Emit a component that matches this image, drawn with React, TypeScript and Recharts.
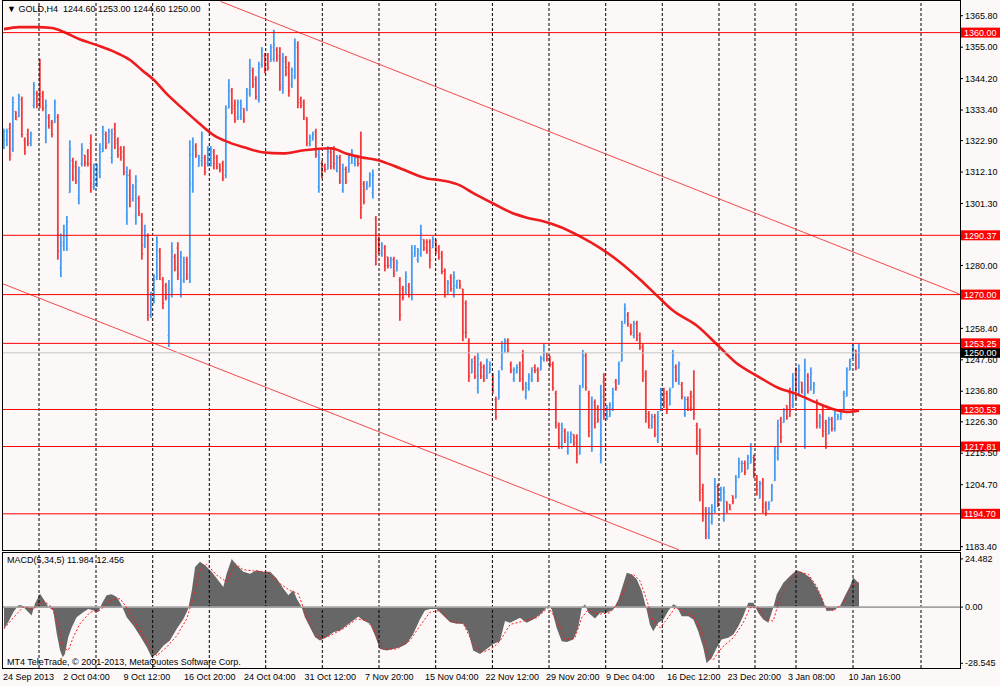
import React from 'react';
import { ComposedChart, Bar, Line, Area, XAxis, YAxis, ReferenceLine } from 'recharts';

const FONT = '"Liberation Sans", Arial, sans-serif';
const BG = '#fcf8f8';
const UP_COLOR = '#459cf2';
const DOWN_COLOR = '#f03c3c';

// ---------------- price bars (H4) ----------------
const opens = [
  1322,1323,1327,1320,1333,1331,1337,1323,1325,1322,1335,1339,1345,1339,1324,1331,1329,1329,1331,
  1279,1287,1290,1305,1316,1314,1303,1315,1318,1319,1322,1307,1308,1312,1319,1325,1322,1317,1327,1323,1320,1319,1297,1311,1303,1297,1303,1297,1287,1290,1263,1268,1276,1285,1275,1273,1256,1270,1283,1286,1272,1275,1282,1276,
  1308,1321,1314,1316,1317,1315,1315,1319,1317,1315,1315,1311,1334,1340,1335,1331,1331,1334,1334,1339,1347,1344,1337,1349,1352,1352,1350,1351,1354,1352,1341,1351,1348,1342,1345,1355,1337,1336,1330,1321,1323,1326,1307,1315,1314,1313,1319,1320,1313,1317,1306,1313,1312,1315,1315,1317,1315,1308,1306,1307,1305,1296,
  1289,1284,1286,1283,1280,1282,1278,1275,1272,1270,1273,1270,1283,1282,1284,1289,1288,1288,1286,1288,1286,1284,1278,1270,1276,1270,1273,1275,1272,1267,1254,1243,1248,1238,1246,1245,1242,1243,1242,1234,1234,1245,1250,1254,1246,1241,1243,1246,1249,1235,1238,1241,1245,1244,1244,1248,1250,1249,1246,1236,
  1225,1218,1223,1216,1219,1222,1221,1216,1238,1249,1236,1218,1233,1231,1215,1240,1228,1228,1231,1240,1240,1247,1260,1263,1259,1256,1260,1256,1252,1243,1229,1224,1228,1220,1230,1237,1236,1232,1238,1245,1240,1239,1229,1234,1236,1235,1225,1220,
  1203,1196,1187,1192,1196,1204,1199,1193,1199,1198,1201,1200,1207,1209,1212,1210,1212,1214,1207,1200,1205,1198,1196,1199,1206,1214,1227,1226,1232,1236,1232,1243,1236,1240,1236,1242,1238,1236,1233,1225,1230,1226,1222,1227,1224,1227,1227,1230,1235,1244,1248,1251,1244.6,
];
const highs = [
  1327,1327,1329,1338,1333,1339,1338,1324,1327,1326,1343,1340,1351,1340,1337,1332,1330,1337,1332,
  1291,1294,1297,1323,1317,1316,1314,1322,1318,1320,1325,1315,1315,1322,1328,1326,1327,1327,1329,1324,1321,1321,1314,1313,1308,1311,1304,1298,1294,1291,1271,1277,1290,1286,1276,1274,1275,1288,1284,1288,1285,1283,1283,1323,
  1324,1322,1318,1326,1318,1321,1321,1320,1318,1315,1316,1335,1344,1341,1337,1337,1337,1334,1341,1351,1348,1345,1350,1355,1353,1353,1356,1361,1355,1355,1353,1352,1350,1348,1358,1357,1338,1337,1331,1325,1326,1327,1320,1316,1315,1321,1320,1321,1318,1318,1315,1314,1318,1320,1318,1318,1326,1309,1309,1312,1313,1297,
  1290,1288,1287,1283,1283,1283,1282,1276,1273,1278,1274,1287,1287,1286,1294,1289,1289,1289,1290,1289,1287,1285,1279,1275,1277,1278,1275,1275,1272,1268,1255,1248,1249,1250,1247,1246,1248,1247,1243,1235,1244,1254,1255,1255,1247,1245,1246,1247,1251,1240,1243,1245,1246,1245,1249,1253,1250,1249,1247,1237,
  1226,1226,1224,1223,1223,1222,1222,1239,1251,1250,1237,1235,1234,1232,1239,1243,1232,1233,1238,1241,1247,1261,1267,1264,1260,1261,1261,1257,1253,1244,1230,1229,1229,1230,1238,1238,1237,1238,1251,1246,1247,1240,1235,1235,1237,1244,1226,1224,
  1205,1197,1197,1198,1207,1205,1204,1204,1199,1198,1201,1208,1214,1213,1213,1215,1219,1215,1208,1206,1207,1199,1199,1205,1218,1227,1228,1231,1232,1238,1243,1245,1246,1240,1248,1243,1245,1240,1234,1229,1232,1227,1228,1228,1230,1229,1230,1237,1245,1248,1253,1251,1253,
];
const lows = [
  1320,1321,1316,1319,1330,1331,1324,1318,1321,1321,1334,1334,1334,1333,1322,1327,1324,1329,1282,
  1276,1285,1285,1305,1309,1308,1301,1314,1314,1314,1305,1306,1307,1310,1319,1320,1322,1315,1320,1317,1316,1311,1294,1300,1302,1294,1297,1282,1286,1261,1262,1267,1275,1275,1265,1268,1252,1269,1278,1275,1269,1274,1275,1274,
  1305,1317,1314,1314,1311,1314,1314,1313,1313,1312,1309,1310,1334,1332,1329,1330,1330,1329,1333,1338,1341,1337,1336,1348,1346,1347,1350,1350,1350,1340,1339,1345,1338,1341,1344,1334,1334,1330,1321,1321,1323,1317,1305,1310,1312,1313,1313,1313,1312,1308,1305,1308,1312,1315,1314,1314,1296,1301,1306,1307,1303,1280,
  1284,1283,1278,1279,1279,1276,1278,1261,1268,1270,1269,1268,1283,1281,1283,1285,1284,1279,1286,1284,1282,1277,1269,1270,1271,1269,1272,1272,1254,1255,1240,1243,1241,1236,1241,1240,1241,1243,1236,1227,1234,1244,1250,1250,1243,1240,1243,1240,1237,1234,1237,1240,1243,1240,1244,1247,1247,1245,1237,1224,
  1217,1217,1219,1215,1219,1218,1212,1215,1238,1237,1221,1216,1224,1226,1212,1227,1227,1228,1230,1237,1239,1247,1260,1259,1256,1255,1254,1251,1240,1226,1224,1224,1221,1219,1230,1231,1229,1232,1238,1240,1239,1234,1228,1230,1230,1227,1215,1199,
  1192,1186,1186,1191,1195,1197,1199,1192,1195,1196,1198,1200,1207,1209,1208,1210,1212,1207,1201,1200,1195,1194,1196,1199,1206,1213,1219,1226,1227,1228,1231,1234,1235,1236,1217,1236,1237,1236,1224,1224,1221,1217,1222,1223,1223,1227,1227,1230,1235,1244,1248,1244,1244.6,
];
const closes = [
  1326,1326,1318,1336,1330,1338,1325,1319,1322,1325,1342,1335,1338,1334,1335,1328,1325,1336,1285,
  1288,1292,1295,1320,1310,1309,1312,1320,1315,1315,1308,1313,1313,1320,1326,1321,1326,1325,1322,1318,1317,1312,1311,1302,1307,1309,1298,1284,1292,1263,1269,1275,1288,1277,1267,1269,1272,1285,1279,1277,1283,1281,1277,1318,
  1320,1318,1317,1324,1312,1319,1320,1315,1314,1313,1310,1331,1342,1334,1330,1336,1335,1330,1340,1348,1342,1338,1348,1354,1347,1348,1355,1356,1351,1342,1350,1346,1340,1347,1356,1336,1335,1331,1322,1324,1325,1318,1317,1311,1313,1319,1314,1315,1317,1309,1313,1309,1317,1319,1317,1315,1300,1302,1308,1311,1311,1283,
  1285,1287,1280,1280,1282,1277,1281,1263,1269,1276,1270,1284,1286,1285,1291,1286,1285,1282,1289,1285,1283,1278,1271,1274,1272,1276,1275,1273,1257,1257,1242,1247,1242,1248,1242,1241,1247,1246,1237,1228,1242,1252,1254,1251,1244,1244,1245,1241,1238,1239,1242,1244,1244,1241,1248,1252,1248,1246,1238,1226,
  1219,1224,1220,1221,1222,1219,1215,1237,1249,1238,1223,1232,1226,1227,1235,1229,1231,1232,1236,1238,1246,1259,1265,1260,1257,1260,1255,1252,1242,1228,1225,1228,1222,1228,1236,1233,1231,1237,1249,1241,1246,1235,1234,1231,1231,1229,1217,1202,
  1194,1188,1195,1197,1204,1198,1203,1202,1196,1196,1199,1206,1212,1212,1209,1214,1217,1208,1203,1205,1197,1195,1198,1204,1216,1225,1221,1230,1228,1230,1241,1236,1244,1237,1244,1237,1243,1239,1226,1228,1223,1219,1227,1224,1229,1228,1229,1236,1243,1247,1252,1245,1250,
];

// ---------------- moving average (read at knots: bar index / value) ----------------
const maIndex = [0,5,11,16,20,25,31,37,42,46,50,54,59,65,70,75,80,86,93,100,109,114,119,125,132,141,146,152,156,163,169,174,180,185,192,199,205,212,218,223,231,238,244,251,258,264,271,276,281,285];
const maValues = [1361.2,1361.9,1361.9,1361.6,1360.2,1357.8,1355.7,1353.3,1350.6,1347.1,1343.7,1339.2,1334.4,1328.9,1324.7,1322.3,1320.6,1318.9,1318.5,1319.6,1320.3,1318.5,1317.2,1316.1,1313.4,1309.9,1309.2,1307.5,1305.1,1301.3,1298.2,1296.5,1295.1,1293.4,1290.0,1285.8,1281.4,1275.2,1269.3,1264.5,1259.3,1252.5,1246.6,1242.1,1238.0,1235.9,1232.8,1230.8,1229.7,1230.1];

// ---------------- levels, channel, axes ----------------
const levelPrices = [1360.0, 1290.37, 1270.0, 1253.25, 1230.53, 1217.81, 1194.7];
const lastPrice = 1250.0;
const priceTicks = [1365.8,1355.0,1344.2,1333.4,1322.9,1312.1,1301.3,1280.0,1258.4,1247.6,1236.8,1226.3,1215.5,1204.7,1183.4];
const upperChannel = [{ x: 72.2, y: 1370.7 }, { x: 318.5, y: 1270.2 }];
const lowerChannel = [{ x: -0.6, y: 1273.8 }, { x: 225.0, y: 1182.3 }];

const weekStartIdx = [11.67,30.67,49.57,68.43,87.23,106.1,125,143.9,162.8,181.67,200.57,219.43,238.33,250.33,264,283,305.67];
const timeLabelIdx = [-0.33,19.77,39.87,60,80,100.17,120.33,140.33,160.5,180.67,200.67,221,241.17,261.33,281.5];
const timeLabels = ['24 Sep 2013','2 Oct 04:00','9 Oct 12:00','16 Oct 20:00','24 Oct 04:00','31 Oct 12:00','7 Nov 20:00','15 Nov 04:00','22 Nov 12:00','29 Nov 20:00','9 Dec 04:00','16 Dec 12:00','23 Dec 20:00','3 Jan 08:00','10 Jan 16:00'];

// ---------------- MACD(5,34,5) ----------------
const histIdx = [0,1.4,3.1,4.8,5.9,7.6,9.2,10.3,12,13.1,14.8,16.4,17.6,18.7,19.6,20.3,21.4,22.6,24.2,26.4,28.1,29.8,31.4,32.6,34.2,35.9,37.6,39.2,40.9,43.1,45.3,47.6,49.2,50.9,53.1,55.3,57.6,59.8,61.4,62.6,63.7,65.3,67,69.2,71.4,73.1,74.2,75.9,77.6,79.8,82,84.2,86.4,88.7,90.9,93.1,94.8,96.4,97.6,99.2,100.3,102,103.7,105.3,107.6,109.8,112,114.2,116.4,118.1,119.8,122,123.7,125.3,127.6,129.8,132,134.2,136.4,138.7,140.3,142,144.2,146.4,148.7,150.9,153.1,154.8,156.4,158.7,160.9,163.1,165.3,167,168.7,172,174.2,176.4,178.7,180.3,181.4,182.6,184.2,185.9,187.6,189.8,191.4,192.6,193.7,194.8,197,198.7,200.9,203.1,204.8,206.4,207.6,209.2,210.9,212.6,214.2,215.3,216.4,218.1,219.8,221.4,223.1,224.2,225.9,228.1,229.8,231.4,233.1,234.2,235.9,237.6,239.2,241.4,243.1,244.8,246.4,248.1,249.8,251.4,253.1,254.8,256.4,257.6,259.8,262,264.2,266.4,268.7,270.9,272.6,274.2,276.4,278.7,280.3,282,283.1,284.2,285];
const histVals = [-11,-7.7,-2.6,0.9,0.9,-1.7,-4.3,1.7,6.8,4.3,0,-1.7,-13.6,-22,-25.5,-23.8,-15.3,-10.2,-5.1,-2.6,-0.9,-1.7,-2.6,1.7,6,6.5,5.1,0.9,-5.1,-9.4,-14.5,-20.4,-25.5,-23.8,-19.6,-17,-11,-6,-0.9,8.5,20.4,23,21.3,17.9,13.6,10.2,17,24.4,21.3,17.9,17,18.7,17.9,17.9,14.5,9.4,6,8.5,4.3,0,-5.1,-10.2,-15.3,-17,-15.3,-12.8,-11.9,-9.4,-6.8,-4.8,-6.8,-8.5,-14.5,-21.3,-22.1,-21.3,-20.4,-18.7,-13.6,-6,-1.7,-0.9,-0.9,-4.3,-7.7,-8.5,-8.5,-12.8,-22.1,-23.8,-21.3,-18.7,-17.3,-7.1,-8,-5.4,-8,-6.3,-3.7,-1.2,1,-1.2,-10.5,-17.3,-17.7,-16.5,-10.5,-0.3,1.4,-2.9,-5.8,-2.9,-2.9,-1.2,3.9,11.6,17.5,16.7,14.1,8.2,-1.2,-8.8,-12.2,-8,-6.3,-2,1.4,0.5,-4.6,-4.6,-6.3,-12.2,-20.7,-28.5,-25.8,-20.7,-16.5,-15.6,-13.9,-9.7,-4.6,2.2,2.2,-2.9,-6.3,-8,-0.3,6.5,12.4,15.8,18.7,17.5,15,9.9,4.8,-2,-1.7,0.5,5.6,10.7,15,13.3,11.984];
const sigIdx = [0,3.1,6.4,9.8,13.1,15.9,18.1,19.8,21.4,23.1,25.3,28.7,32,35.3,38.7,42,45.3,48.7,50.9,54.2,57.6,60.9,63.1,65.3,67.6,70.9,74.2,77,79.8,83.1,87.6,92,95.3,98.1,100.3,103.1,105.3,108.7,113.1,117.6,120.9,123.1,126.4,130.9,135.3,138.7,142,145.3,148.7,153.1,156.4,159.8,163.1,165.3,168.7,173.1,177.6,181.4,184.2,187,190.3,192.6,194.8,198.1,202,205.3,207.6,209.8,212,214.2,216.4,218.7,221.4,223.7,226.4,229.8,232.6,234.8,236.4,239.2,243.1,246.4,248.7,251.4,254.2,256.4,258.7,262,264.8,268.1,270.9,273.7,276.4,279.8,282.6,285];
const sigVals = [-11,-5.4,0,-0.9,3.4,0,-8.5,-20.4,-22.1,-15.3,-8.5,-2.6,-1.7,3.4,4.3,-2.6,-11.9,-20.4,-24.7,-20.4,-14.5,-6,5.1,18.7,21.8,16.2,12.8,22.1,19,18.4,17.9,11.9,8.5,6.8,-2.6,-11.9,-16.2,-14.5,-11,-6,-6.8,-11,-21.3,-21.3,-17,-9.4,-2.6,-1.7,-6.8,-8.5,-18.7,-23,-20.4,-17.3,-8.8,-7.1,-5.4,-0.3,-6.3,-16.5,-15.6,-5.4,-1.2,-3.7,-2.9,3.1,11.6,16.7,13.3,3.9,-7.1,-10.5,-5.4,-0.3,-2,-4.6,-12.2,-25.8,-26.7,-20.7,-15.6,-8,-0.3,-0.3,-6.3,-7.1,4.8,13.3,18,16.7,10.7,0.5,-2,2.2,10.7,12.456];
const macdTicks = [24.482, 0, -28.545];
const macdTickLabels = ['24.482', '0.00', '-28.545'];

// ---------------- derived tables ----------------
const X_DOMAIN: [number, number] = [-0.667, 318.667];
const P_DOMAIN: [number, number] = [1181.92, 1370.86];
const M_DOMAIN: [number, number] = [-30.93, 27.99];

const barRows = opens.map((o, i) => ({
  i, o, h: highs[i], l: lows[i], c: closes[i],
  range: [lows[i], highs[i]] as [number, number],
  ma: null as number | null,
}));
maIndex.forEach((idx, k) => { barRows[idx].ma = maValues[k]; });

const macdMap = new Map<number, { i: number; hist: number | null; sig: number | null }>();
histIdx.forEach((x, k) => {
  const r = macdMap.get(x) || { i: x, hist: null, sig: null };
  r.hist = histVals[k]; macdMap.set(x, r);
});
sigIdx.forEach((x, k) => {
  const r = macdMap.get(x) || { i: x, hist: null, sig: null };
  r.sig = sigVals[k]; macdMap.set(x, r);
});
const macdRows = Array.from(macdMap.values()).sort((a, b) => a.i - b.i);

// ---------------- shapes ----------------
const OhlcShape = (props: any) => {
  const { x, y, width, height, payload } = props;
  if (x == null || y == null || !payload) return null;
  const top = Math.min(y, y + height);
  const bot = Math.max(y, y + height);
  const { o, h, l, c } = payload;
  const span = h - l || 1;
  const py = (v: number) => top + ((h - v) / span) * (bot - top);
  const cx = x + width / 2;
  const col = c >= o ? UP_COLOR : DOWN_COLOR;
  return (
    <g>
      <line x1={cx} x2={cx} y1={top} y2={Math.max(bot, top + 1)} stroke={col} strokeWidth={1.8} />
      <line x1={cx - 1.6} x2={cx} y1={py(o)} y2={py(o)} stroke={col} strokeWidth={1} strokeOpacity={0.6} />
      <line x1={cx} x2={cx + 1.6} y1={py(c)} y2={py(c)} stroke={col} strokeWidth={1} strokeOpacity={0.6} />
    </g>
  );
};

const levelLabel = (text: string, bg: string) => (props: any) => {
  const vb = props.viewBox || {};
  const yy = vb.y;
  const x0 = vb.x + vb.width + 1;
  return (
    <g>
      <rect x={x0} y={yy - 5} width={39} height={10} fill={bg} />
      <text x={x0 + 3} y={yy + 3.3} fill="#ffffff" fontSize={9} fontFamily={FONT}>{text}</text>
    </g>
  );
};

const TimeTick = (props: any) => {
  const { x, y, index } = props;
  return (
    <text x={x} y={y + 12} fill="#000" fontSize={9} fontFamily={FONT} textAnchor="start">
      {timeLabels[index]}
    </text>
  );
};

const textStyle: React.CSSProperties = {
  position: 'absolute', fontFamily: FONT, fontSize: 9, lineHeight: '9px', color: '#000', whiteSpace: 'pre',
};

export default function App() {
  return (
    <div style={{ position: 'absolute', left: 0, top: 0, width: 1000, height: 686, background: BG, overflow: 'hidden' }}>
      <div style={{ position: 'absolute', left: 0, top: 0 }}>
        <ComposedChart width={1000} height={551} data={barRows} margin={{ top: 1, right: 0, bottom: 0, left: 2 }} barGap={0} barCategoryGap={0}>
          <XAxis type="number" dataKey="i" domain={X_DOMAIN} allowDataOverflow hide />
          <YAxis
            orientation="right" type="number" domain={P_DOMAIN} allowDataOverflow ticks={priceTicks} interval={0}
            width={40} axisLine={false} tickLine={{ stroke: '#000' }} tickSize={3} tickMargin={2}
            tick={{ fontSize: 9, fill: '#000', fontFamily: FONT }} tickFormatter={(v: number) => v.toFixed(2)}
          />
          {weekStartIdx.map((w) => (
            <ReferenceLine key={'w' + w} x={w} stroke="#000" strokeDasharray="3 2" />
          ))}
          <Bar dataKey="range" barSize={3} shape={OhlcShape} isAnimationActive={false} />
          <Line dataKey="ma" type="monotone" stroke="#ee1c1c" strokeWidth={2.6} dot={false} connectNulls isAnimationActive={false} />
          <ReferenceLine segment={upperChannel} stroke="#f24a4a" />
          <ReferenceLine segment={lowerChannel} stroke="#f24a4a" />
          <ReferenceLine y={lastPrice} stroke="#c4c4c4" label={levelLabel(lastPrice.toFixed(2), '#000000')} />
          {levelPrices.map((p) => (
            <ReferenceLine key={'l' + p} y={p} stroke="#ff0000" label={levelLabel(p.toFixed(2), '#ff0000')} />
          ))}
        </ComposedChart>
      </div>
      <div style={{ position: 'absolute', left: 0, top: 551 }}>
        <ComposedChart width={1000} height={134} data={macdRows} margin={{ top: 1, right: 0, bottom: 0, left: 2 }}>
          <XAxis
            type="number" dataKey="i" domain={X_DOMAIN} allowDataOverflow ticks={timeLabelIdx} interval={0}
            height={17} axisLine={false} tickLine={false} tickSize={0} tickMargin={0} tick={<TimeTick />}
          />
          <YAxis
            orientation="right" type="number" domain={M_DOMAIN} allowDataOverflow ticks={macdTicks} interval={0}
            width={40} axisLine={false} tickLine={{ stroke: '#000' }} tickSize={3} tickMargin={2}
            tick={{ fontSize: 9, fill: '#000', fontFamily: FONT }}
            tickFormatter={(v: number) => macdTickLabels[macdTicks.indexOf(v)] ?? String(v)}
          />
          {weekStartIdx.map((w) => (
            <ReferenceLine key={'mw' + w} x={w} stroke="#000" strokeDasharray="3 2" />
          ))}
          <Area dataKey="hist" type="linear" stroke="none" fill="#676767" fillOpacity={1} baseValue={0} connectNulls isAnimationActive={false} />
          <ReferenceLine y={0} stroke="#a4a4a4" strokeWidth={1.6} />
          <Line dataKey="sig" type="linear" stroke="#ff1a1a" strokeWidth={1} strokeDasharray="2 2" dot={false} connectNulls isAnimationActive={false} />
        </ComposedChart>
      </div>
      {/* panel frames */}
      <div style={{ position: 'absolute', left: 2, top: 0, width: 959, height: 551, border: '1px solid #000', boxSizing: 'border-box', pointerEvents: 'none' }} />
      <div style={{ position: 'absolute', left: 2, top: 552, width: 959, height: 117, border: '1px solid #000', boxSizing: 'border-box', pointerEvents: 'none' }} />
      {/* texts */}
      <div style={{ ...textStyle, left: 7, top: 5 }}>{'▼ GOLD,H4  1244.60 1253.00 1244.60 1250.00'}</div>
      <div style={{ ...textStyle, left: 7, top: 556 }}>{'MACD(5,34,5) 11.984 12.456'}</div>
      <div style={{ ...textStyle, left: 7, top: 658 }}>{'MT4 TeleTrade, © 2001-2013, MetaQuotes Software Corp.'}</div>
    </div>
  );
}
